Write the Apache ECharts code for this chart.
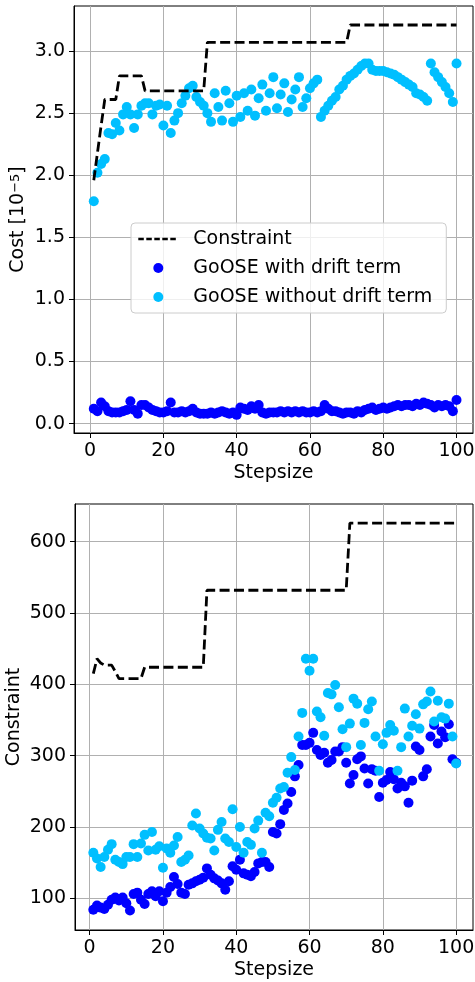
<!DOCTYPE html>
<html>
<head>
<meta charset="utf-8">
<title>GoOSE</title>
<script src="https://cdn.jsdelivr.net/npm/echarts@6/dist/echarts.min.js"></script>
<style>
  html, body { margin: 0; padding: 0; background: #fff; }
  #main { width: 475px; height: 982px; }
</style>
</head>
<body>
<div id="main"></div>
<script>
// 步长 1..100
const steps = Array.from({ length: 100 }, (_, i) => i + 1);

// 上图：成本 [1e-5]
const costConstraint = [
  1.96, 2.18, 2.40, 2.61, 2.61, 2.61, 2.61, 2.80, 2.80, 2.80,
  2.80, 2.80, 2.80, 2.80, 2.68, 2.68, 2.68, 2.68, 2.68, 2.68,
  2.68, 2.68, 2.68, 2.68, 2.68, 2.68, 2.68, 2.68, 2.68, 2.68,
  2.68, 3.07, 3.07, 3.07, 3.07, 3.07, 3.07, 3.07, 3.07, 3.07,
  3.07, 3.07, 3.07, 3.07, 3.07, 3.07, 3.07, 3.07, 3.07, 3.07,
  3.07, 3.07, 3.07, 3.07, 3.07, 3.07, 3.07, 3.07, 3.07, 3.07,
  3.07, 3.07, 3.07, 3.07, 3.07, 3.07, 3.07, 3.07, 3.07, 3.07,
  3.21, 3.21, 3.21, 3.21, 3.21, 3.21, 3.21, 3.21, 3.21, 3.21,
  3.21, 3.21, 3.21, 3.21, 3.21, 3.21, 3.21, 3.21, 3.21, 3.21,
  3.21, 3.21, 3.21, 3.21, 3.21, 3.21, 3.21, 3.21, 3.21, 3.21
];
const costWithDrift = [
  0.12, 0.10, 0.17, 0.14, 0.10, 0.09, 0.09, 0.09, 0.10, 0.11,
  0.18, 0.11, 0.08, 0.15, 0.15, 0.13, 0.11, 0.10, 0.09, 0.09,
  0.10, 0.17, 0.09, 0.09, 0.10, 0.09, 0.10, 0.12, 0.09, 0.08,
  0.08, 0.08, 0.09, 0.08, 0.09, 0.10, 0.09, 0.08, 0.09, 0.07,
  0.13, 0.12, 0.11, 0.14, 0.12, 0.15, 0.09, 0.08, 0.09, 0.09,
  0.09, 0.10, 0.09, 0.10, 0.09, 0.10, 0.09, 0.10, 0.09, 0.09,
  0.10, 0.09, 0.10, 0.15, 0.12, 0.10, 0.10, 0.09, 0.08, 0.09,
  0.09, 0.08, 0.10, 0.09, 0.11, 0.12, 0.13, 0.11, 0.12, 0.13,
  0.12, 0.13, 0.14, 0.15, 0.14, 0.15, 0.15, 0.14, 0.16, 0.15,
  0.17, 0.16, 0.15, 0.13, 0.15, 0.14, 0.15, 0.14, 0.10, 0.19
];
const costWithoutDrift = [
  1.79, 2.02, 2.09, 2.13, 2.34, 2.33, 2.42, 2.36, 2.49, 2.55,
  2.49, 2.38, 2.49, 2.56, 2.58, 2.58, 2.49, 2.56, 2.57, 2.40,
  2.56, 2.34, 2.44, 2.50, 2.58, 2.64, 2.70, 2.72, 2.63, 2.59,
  2.56, 2.50, 2.43, 2.66, 2.55, 2.44, 2.68, 2.58, 2.43, 2.64,
  2.47, 2.66, 2.52, 2.69, 2.48, 2.62, 2.73, 2.52, 2.66, 2.79,
  2.54, 2.65, 2.74, 2.51, 2.61, 2.69, 2.79, 2.55, 2.62, 2.70,
  2.74, 2.77, 2.47, 2.52, 2.56, 2.60, 2.63, 2.69, 2.72, 2.77,
  2.80, 2.82, 2.85, 2.88, 2.90, 2.90, 2.85, 2.84, 2.84, 2.84,
  2.83, 2.82, 2.81, 2.79, 2.77, 2.75, 2.73, 2.71, 2.66, 2.65,
  2.63, 2.60, 2.90, 2.83, 2.79, 2.75, 2.71, 2.66, 2.59, 2.90
];

// 下图：约束
const limConstraint = [
  415, 436, 430, 427, 427, 427, 418, 408, 408, 408,
  408, 408, 408, 408, 424, 424, 424, 424, 424, 424,
  424, 424, 424, 424, 424, 424, 424, 424, 424, 424,
  424, 532, 532, 532, 532, 532, 532, 532, 532, 532,
  532, 532, 532, 532, 532, 532, 532, 532, 532, 532,
  532, 532, 532, 532, 532, 532, 532, 532, 532, 532,
  532, 532, 532, 532, 532, 532, 532, 532, 532, 532,
  626, 626, 626, 626, 626, 626, 626, 626, 626, 626,
  626, 626, 626, 626, 626, 626, 626, 626, 626, 626,
  626, 626, 626, 626, 626, 626, 626, 626, 626, 626
];
const limWithDrift = [
  84, 90, 87, 85, 91, 98, 101, 97, 101, 93,
  83, 106, 108, 98, 92, 106, 110, 103, 110, 96,
  108, 116, 130, 120, 108, 106, 119, 121, 124, 126,
  129, 142, 133, 128, 125, 121, 112, 124, 145, 140,
  154, 135, 133, 131, 137, 149, 151, 151, 144, 193,
  191, 204, 224, 233, 249, 271, 287, 315, 315, 318,
  332, 308, 301, 304, 290, 294, 306, 306, 312, 290,
  261, 273, 295, 299, 282, 261, 281, 279, 242, 262,
  266, 277, 267, 254, 262, 257, 234, 265, 313, 308,
  271, 281, 327, 343, 317, 334, 326, 344, 295, 290
];
const limWithoutDrift = [
  164, 156, 144, 158, 168, 176, 154, 151, 148, 158,
  158, 176, 158, 177, 189, 167, 193, 168, 173, 143,
  170, 164, 174, 186, 151, 154, 160, 202, 219, 198,
  191, 185, 184, 167, 196, 207, 184, 179, 225, 172,
  200, 164, 179, 175, 198, 209, 164, 220, 215, 234,
  241, 254, 256, 276, 298, 280, 327, 360, 436, 419,
  436, 362, 354, 328, 388, 386, 399, 368, 337, 312,
  345, 380, 373, 315, 346, 365, 376, 327, 279, 316,
  332, 343, 335, 279, 312, 366, 327, 342, 358, 338,
  372, 376, 390, 348, 377, 354, 352, 373, 327, 289
];

// 刻度
const xTicks = [0, 20, 40, 60, 80, 100];
const costTicks = [0, 0.5, 1, 1.5, 2, 2.5, 3];
const limTicks = [100, 200, 300, 400, 500, 600];

const font = 'DejaVu Sans';
const pair = ys => ys.map((y, i) => [steps[i], y]);

function xAxisOpt(gridIndex, min, max) {
  return {
    type: 'value', gridIndex: gridIndex, min: min, max: max,
    name: 'Stepsize', nameLocation: 'middle', nameGap: 31, nameMoveOverlap: false,
    nameTextStyle: { fontFamily: font, fontSize: 19, color: '#000' },
    axisLine: { show: true, onZero: false, lineStyle: { color: '#000', width: 1 } },
    axisTick: { show: true, length: 5, customValues: xTicks, lineStyle: { color: '#000' } },
    axisLabel: { customValues: xTicks, margin: 9, fontFamily: font, fontSize: 19, color: '#000' },
    splitLine: { show: true, lineStyle: { color: '#b0b0b0', width: 1 } }
  };
}

function yAxisOpt(gridIndex, min, max, ticks, name, fmt, gap) {
  return {
    type: 'value', gridIndex: gridIndex, min: min, max: max,
    name: name, nameLocation: 'middle', nameRotate: 90, nameGap: gap, nameMoveOverlap: false,
    nameTextStyle: {
      fontFamily: font, fontSize: 19, color: '#000',
      rich: { sup: { fontFamily: font, fontSize: 13, verticalAlign: 'top', color: '#000' } }
    },
    axisLine: { show: true, onZero: false, lineStyle: { color: '#000', width: 1 } },
    axisTick: { show: true, length: 5, customValues: ticks, lineStyle: { color: '#000' } },
    axisLabel: { customValues: ticks, margin: 9, formatter: fmt, fontFamily: font, fontSize: 19, color: '#000' },
    splitLine: { show: true, lineStyle: { color: '#b0b0b0', width: 1 } }
  };
}

const myChart = echarts.init(document.getElementById('main'));

const dashed = { color: '#000', width: 2.8, type: [10, 4.4] };

const option = {
  animation: false,
  backgroundColor: '#fff',
  grid: [
    { left: 74, right: 2, top: 6, height: 427, show: true, borderColor: '#000', borderWidth: 1,
      containLabel: false, outerBoundsMode: 'none' },
    { left: 75, right: 2, top: 504, height: 426, show: true, borderColor: '#000', borderWidth: 1,
      containLabel: false, outerBoundsMode: 'none' }
  ],
  xAxis: [
    xAxisOpt(0, -4.4, 104.5),
    xAxisOpt(1, -4.0, 104.6)
  ],
  yAxis: [
    yAxisOpt(0, -0.076, 3.363, costTicks, 'Cost [10{sup|−5}]', v => v.toFixed(1), 46),
    yAxisOpt(1, 55.6, 652.9, limTicks, 'Constraint', v => String(v), 51)
  ],
  legend: {
    data: [
      { name: 'Constraint', itemStyle: { opacity: 0 }, lineStyle: { type: [5.5, 2.5], width: 2.6 } },
      'GoOSE with drift term',
      'GoOSE without drift term'
    ],
    orient: 'vertical',
    left: 131, top: 223,
    itemWidth: 40, itemHeight: 10, itemGap: 9,
    padding: [6, 14, 6, 6],
    backgroundColor: 'rgba(255,255,255,0.8)',
    borderColor: '#cccccc', borderWidth: 1, borderRadius: 4,
    textStyle: { fontFamily: font, fontSize: 19, color: '#000', lineHeight: 20, padding: [0, 0, 0, 10] }
  },
  series: [
    {
      name: 'Constraint', type: 'line', xAxisIndex: 0, yAxisIndex: 0,
      data: pair(costConstraint), symbol: 'none', lineStyle: dashed, itemStyle: { color: '#000' }
    },
    {
      name: 'GoOSE with drift term', type: 'scatter', xAxisIndex: 0, yAxisIndex: 0,
      data: pair(costWithDrift), symbolSize: 10, itemStyle: { color: '#0000ff', opacity: 1 }
    },
    {
      name: 'GoOSE without drift term', type: 'scatter', xAxisIndex: 0, yAxisIndex: 0,
      data: pair(costWithoutDrift), symbolSize: 10, itemStyle: { color: '#00bfff', opacity: 1 }
    },
    {
      name: 'Constraint', type: 'line', xAxisIndex: 1, yAxisIndex: 1,
      data: pair(limConstraint), symbol: 'none', lineStyle: dashed, itemStyle: { color: '#000' }
    },
    {
      name: 'GoOSE with drift term', type: 'scatter', xAxisIndex: 1, yAxisIndex: 1,
      data: pair(limWithDrift), symbolSize: 10, itemStyle: { color: '#0000ff', opacity: 1 }
    },
    {
      name: 'GoOSE without drift term', type: 'scatter', xAxisIndex: 1, yAxisIndex: 1,
      data: pair(limWithoutDrift), symbolSize: 10, itemStyle: { color: '#00bfff', opacity: 1 }
    }
  ]
};

myChart.setOption(option);
</script>
</body>
</html>
